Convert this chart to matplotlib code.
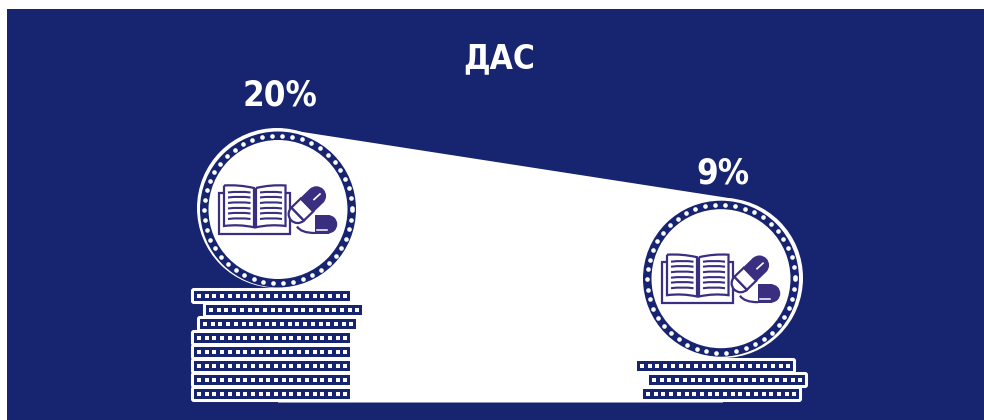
import numpy as np
import matplotlib
matplotlib.use('Agg')
import matplotlib.pyplot as plt
from matplotlib.patches import Circle, Rectangle, FancyBboxPatch, Polygon, PathPatch, Wedge
from matplotlib.path import Path

plt.rcParams['font.family'] = ['DejaVu Sans']

# data
title = 'ДАС'
shares = [20, 9]
coins = [8, 3]

# layout, in pixels of the 984x420 picture
navy = '#17246f'
purple = '#3a2e80'
centers = [(278, 209.5), (721, 278.7)]
halo = [(277, 208), (723, 278)]
label_pos = [(280, 95), (723, 174)]
stack_x = [194, 637]
stack_bottom = [389, 389]
nudge = [[0, 0, 0, 0, 0, 6, 12, 0], [6, 12, 0]]  # bottom coin first

fig = plt.figure(figsize=(9.84, 4.2), dpi=100, facecolor='white')
ax = fig.add_axes([0, 0, 1, 1])
ax.set_xlim(0, 984)
ax.set_ylim(420, 0)
ax.axis('off')

ax.add_patch(Rectangle((7, 9), 977, 411, fc=navy, ec='none'))

# white shape joining the two circles
ax.add_patch(Polygon([(280, 128.5), (735, 199), (723, 278), (723, 402.5),
                      (278, 402.5), (278, 209)], fc='white', ec='none'))


def curve(p0, c, p1):
    return Path([p0, c, p1], [Path.MOVETO, Path.CURVE3, Path.CURVE3])


def capsule(cx, cy, ang, length, r):
    # rotated capsule, light half then dark half
    t = np.radians(ang)
    dx, dy = np.cos(t), np.sin(t)
    end1 = (cx - dx * length / 2, cy - dy * length / 2)
    end2 = (cx + dx * length / 2, cy + dy * length / 2)
    nx, ny = -dy * r, dx * r
    ax.add_patch(Wedge(end1, r, ang + 90, ang + 270, fc='white', ec=purple, lw=1.6, zorder=5))
    ax.add_patch(Polygon([(end1[0] + nx, end1[1] + ny), (cx + nx, cy + ny),
                          (cx - nx, cy - ny), (end1[0] - nx, end1[1] - ny)],
                         fc='white', ec=purple, lw=1.6, zorder=5))
    ax.add_patch(Wedge(end2, r, ang - 90, ang + 90, fc=purple, ec=purple, lw=1, zorder=5))
    ax.add_patch(Polygon([(cx + nx, cy + ny), (end2[0] + nx, end2[1] + ny),
                          (end2[0] - nx, end2[1] - ny), (cx - nx, cy - ny)],
                         fc=purple, ec=purple, lw=1, zorder=5))


def icon(cx, cy):
    # book and two pills, drawn relative to the medallion centre
    ax.add_patch(Rectangle((cx - 59, cy - 17), 70.5, 41, fc='white', ec=purple, lw=1.6, zorder=4))
    for x0, x1, side in [(-54, -24, 0), (-22, 7.5, 1)]:
        ytop0, ytop1 = (-24, -21.5) if side == 0 else (-21.5, -24)
        ybot0, ybot1 = (16.5, 17.8) if side == 0 else (17.8, 16.5)
        verts = [(x0, ytop0), ((x0 + x1) / 2, -25), (x1, ytop1), (x1, ybot1),
                 ((x0 + x1) / 2, 14.5), (x0, ybot0), (x0, ytop0)]
        codes = [Path.MOVETO, Path.CURVE3, Path.CURVE3, Path.LINETO,
                 Path.CURVE3, Path.CURVE3, Path.LINETO]
        ax.add_patch(PathPatch(Path([(cx + v[0], cy + v[1]) for v in verts], codes),
                               fc='white', ec=purple, lw=1.6, zorder=4))
        for y in [-17, -12, -6.5, -1, 4, 9.5]:
            lx0, lx1 = x0 + 4, x1 - 3.5
            ax.add_patch(PathPatch(curve((cx + lx0, cy + y), (cx + (lx0 + lx1) / 2, cy + y - 1.5),
                                         (cx + lx1, cy + y)),
                                   fc='none', ec=purple, lw=1.5, zorder=5))
    capsule(cx + 29, cy - 4.5, -44, 26, 9)
    ax.plot([cx + 36, cx + 42], [cy - 10, cy - 15.5], color='white', lw=1.2, zorder=6)
    # second pill, only its right half is filled
    ax.add_patch(Rectangle((cx + 37, cy + 5.5), 13.5, 18.5, fc=purple, ec='none', zorder=5))
    ax.add_patch(Wedge((cx + 50, cy + 14.75), 9.25, -90, 90, fc=purple, ec='none', zorder=5))
    ax.add_patch(PathPatch(curve((cx + 19, cy + 17), (cx + 23, cy + 23.5), (cx + 37, cy + 23.5)),
                           fc='none', ec=purple, lw=1.6, zorder=5))
    ax.plot([cx + 39, cx + 49], [cy + 20, cy + 20], color='white', lw=1.1, zorder=6)


def medallion(center, outer):
    cx, cy = center
    ax.add_patch(Circle(outer, 80, fc='white', ec='none', zorder=2))
    ax.add_patch(Circle(center, 78, fc=navy, ec='none', zorder=3))
    ax.add_patch(Circle(center, 69.5, fc='white', ec='none', zorder=3))
    ang = np.radians(np.arange(0, 360, 7.8))
    ax.scatter(cx + 74 * np.cos(ang), cy + 74 * np.sin(ang), s=11, c='white', lw=0, zorder=4)
    icon(cx, cy)


def coin(x, y):
    # one flat coin from the stack, white rim and a row of dots
    ax.add_patch(FancyBboxPatch((x - 1.5, y - 1.5), 159, 13, boxstyle='round,pad=0,rounding_size=1.5',
                                fc=navy, ec='white', lw=2.2, zorder=2))
    ax.add_patch(Rectangle((x, y), 156, 10, fc=navy, ec='none', zorder=2))
    dots = x + 5 + np.arange(20) * 7.7
    ax.scatter(dots, np.full(20, y + 5), s=6, marker='s', c='white', lw=0, zorder=3)


for i in range(len(shares)):
    for k in range(coins[i]):
        coin(stack_x[i] + nudge[i][k], stack_bottom[i] - 14 * k)
    medallion(centers[i], halo[i])
    ax.text(label_pos[i][0], label_pos[i][1], '%d%%' % shares[i], color='white', fontsize=25,
            fontweight='bold', fontstretch='condensed', ha='center', va='center', zorder=7)

ax.text(499, 59, title, color='white', fontsize=24, fontweight='bold', fontstretch='condensed',
        ha='center', va='center')

fig.savefig('out.png', dpi=100, facecolor='white')
